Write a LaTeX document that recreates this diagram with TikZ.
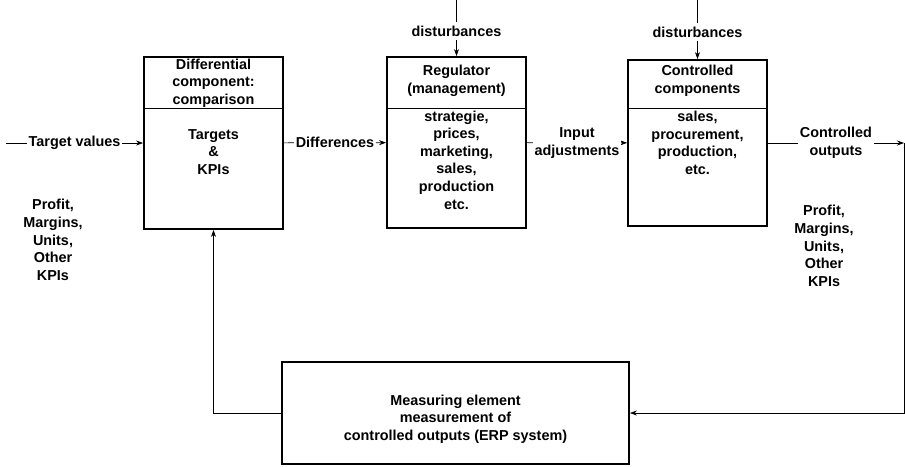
\documentclass[tikz,border=0pt]{standalone}
\usepackage{fontspec}
\setmainfont{Liberation Sans}
\usetikzlibrary{arrows.meta,calc,positioning}
\tikzset{blk/.style={draw,line width=1.8pt,minimum width=139pt,inner sep=0pt},
  txt/.style={align=center,font=\fontsize{14.4}{17.6}\selectfont\bfseries,inner sep=3pt},
  lab/.style={txt,fill=white,inner sep=2pt}}

\begin{document}
\begin{tikzpicture}[x=1pt,y=-1pt,>={Stealth[length=7pt,width=5pt]},line width=0.7pt]
\useasboundingbox (0,0) rectangle (905,466);
% --- the blocks of the loop
\node[blk,minimum height=172pt] (diff) at (213.5,143) {};
\node[blk,minimum height=171pt] (reg) at (456.5,142.5) {};
\node[blk,minimum height=166pt] (ctrl) at (697.5,143) {};
\node[blk,minimum width=347pt,minimum height=102pt] (meas) at (455.5,413) {};
\coordinate (div) at (0,108);
\foreach \b in {diff,reg,ctrl} \draw (\b.west |- div) -- (\b.east |- div);
% --- texts in the blocks
\node[txt] (diffh) at (213.5,83) {Differential\\component:\\comparison};
\node[txt] (diffb) at (213.5,152) {Targets\\\&\\KPIs};
\node[txt] (regh) at (456.5,81) {Regulator\\(management)};
\node[txt] (regb) at (456.5,160) {strategie,\\prices,\\marketing,\\sales,\\production\\etc.};
\node[txt] (ctrlh) at (697.5,80.5) {Controlled\\components};
\node[txt] (ctrlb) at (697.5,143) {sales,\\procurement,\\production,\\etc.};
\node[txt] (measl) at (455.5,419) {Measuring element\\measurement of\\controlled outputs (ERP system)};
\node[txt] (kpil) at (53,240) {Profit,\\Margins,\\Units,\\Other\\KPIs};
\node[txt] (kpir) at (824,246) {Profit,\\Margins,\\Units,\\Other\\KPIs};
% --- signal path
\coordinate (tin) at (6,143);
\coordinate (tout) at (904,143);
\draw[->] (tin) -- node[lab] {Target values} (diff);
\draw[->] (diff) -- node[lab] {Differences} (reg);
\draw[->] (reg) -- node[lab] {Input\\adjustments} (ctrl);
\draw[->] (ctrl) -- node[lab] {Controlled\\outputs} (tout);
\draw[->] (tout) |- (meas);
\draw[->] (meas) -| (diff);
% --- disturbances
\coordinate (d1) at (456.5,0); \coordinate (d2) at (697.5,0);
\node[txt] (dist1) at (456.5,31) {disturbances};
\node[txt] (dist2) at (697.5,32) {disturbances};
\draw (d1) -- (dist1); \draw[->] (dist1) -- (reg);
\draw (d2) -- (dist2); \draw[->] (dist2) -- (ctrl);
\end{tikzpicture}
\end{document}
